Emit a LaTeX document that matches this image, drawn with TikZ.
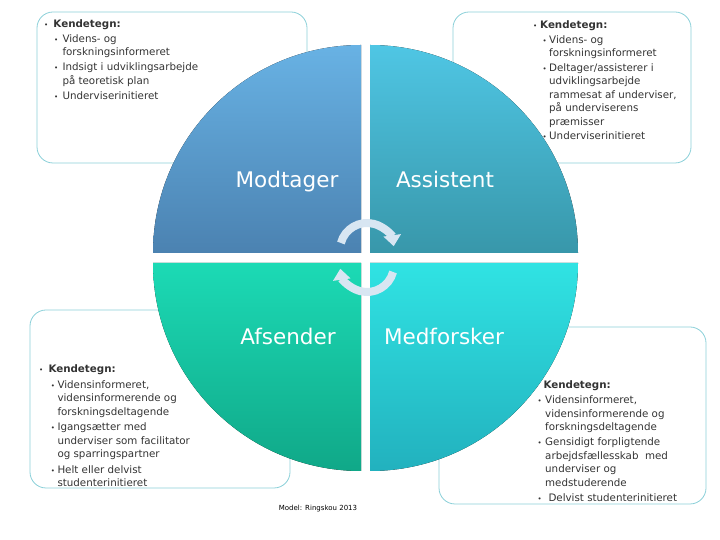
\documentclass[tikz,border=0pt]{standalone}
\usepackage{fontspec}
\setmainfont{DejaVu Sans}
\usetikzlibrary{arrows.meta}
\definecolor{boxline}{HTML}{8ACFD8}
\definecolor{txtgray}{HTML}{333333}
\definecolor{cycblue}{HTML}{D8E6F2}
\definecolor{tlA}{HTML}{68B2E4}
\definecolor{tlB}{HTML}{4B82B1}
\definecolor{trA}{HTML}{4FC6E4}
\definecolor{trB}{HTML}{3897AA}
\definecolor{blA}{HTML}{1CDAB5}
\definecolor{blB}{HTML}{10A888}
\definecolor{brA}{HTML}{30E3E3}
\definecolor{brB}{HTML}{22B1BE}
\tikzset{
  kbox/.style={draw=boxline, line width=0.8pt, rounded corners=16pt},
  ktxt/.style={anchor=north west, inner sep=0pt, align=left, text=txtgray,
    font=\fontsize{10.3}{13.5}\selectfont},
  rlab/.style={anchor=base, inner sep=0pt, text=white,
    font=\fontsize{21.5}{24}\selectfont},
  cyc/.style={draw=cycblue, line width=8pt, -{Triangle[width=17pt, length=11pt]}},
  src/.style={inner sep=0pt, text=black, font=\fontsize{7}{8}\selectfont}
}
\newcommand{\bul}[1]{\makebox[#1][l]{\scriptsize\textbullet}}

\begin{document}
\begin{tikzpicture}[x=1pt, y=1pt]
  \useasboundingbox (0,0) rectangle (720,540);
  % boxes
  \draw[kbox] (37,377) rectangle (307,528);
  \draw[kbox] (453,377) rectangle (691,528);
  \draw[kbox] (30,52) rectangle (290,230);
  \draw[kbox] (439,36) rectangle (706,213);
  % Modtager text
  \node[ktxt] (ttl) at (44,520.2) {\bul{9.3pt}\textbf{Kendetegn:}\\[1pt]
    \hspace*{10pt}\bul{8.3pt}Videns- og\\
    \hspace*{18.3pt}forskningsinformeret\\[1.5pt]
    \hspace*{10pt}\bul{8.3pt}Indsigt i udviklingsarbejde\\
    \hspace*{18.3pt}på teoretisk plan\\[2pt]
    \hspace*{10pt}\bul{8.3pt}Underviserinitieret};
  % Assistent text
  \node[ktxt] (ttr) at (533,519.2) {\bul{7pt}\textbf{Kendetegn:}\\[1pt]
    \hspace*{9.3pt}\bul{6.7pt}Videns- og\\
    \hspace*{16pt}forskningsinformeret\\[1pt]
    \hspace*{9.3pt}\bul{6.7pt}Deltager/assisterer i\\
    \hspace*{16pt}udviklingsarbejde\\
    \hspace*{16pt}rammesat af underviser,\\
    \hspace*{16pt}på underviserens\\
    \hspace*{16pt}præmisser\\[1pt]
    \hspace*{9.3pt}\bul{6.7pt}Underviserinitieret};
  % Afsender text
  \node[ktxt] (tbl) at (39,175.2) {\bul{9.3pt}\textbf{Kendetegn:}\\[2pt]
    \hspace*{11.7pt}\bul{6.6pt}Vidensinformeret,\\
    \hspace*{18.3pt}vidensinformerende og\\
    \hspace*{18.3pt}forskningsdeltagende\\[2pt]
    \hspace*{11.7pt}\bul{6.6pt}Igangsætter med\\
    \hspace*{18.3pt}underviser som facilitator\\
    \hspace*{18.3pt}og sparringspartner\\[2pt]
    \hspace*{11.7pt}\bul{6.6pt}Helt eller delvist\\
    \hspace*{18.3pt}studenterinitieret};
  % Medforsker text
  \node[ktxt] (tbr) at (535,159.2) {\bul{8.3pt}\textbf{Kendetegn:}\\[1.5pt]
    \hspace*{2.3pt}\bul{7.7pt}Vidensinformeret,\\
    \hspace*{10pt}vidensinformerende og\\
    \hspace*{10pt}forskningsdeltagende\\[1.5pt]
    \hspace*{2.3pt}\bul{7.7pt}Gensidigt forpligtende\\
    \hspace*{10pt}arbejdsfællesskab\ \ med\\
    \hspace*{10pt}underviser og\\
    \hspace*{10pt}medstuderende\\[1.5pt]
    \hspace*{2.3pt}\bul{11pt}Delvist studenterinitieret};
  % quadrants
  \coordinate (ctl) at (361,287);
  \coordinate (ctr) at (370,287);
  \coordinate (cbl) at (361,277);
  \coordinate (cbr) at (370,277);
  \fill[top color=tlA, bottom color=tlB] (ctl) -- ++(0,208) arc[start angle=90, end angle=180, radius=208] -- cycle;
  \fill[top color=trA, bottom color=trB] (ctr) -- ++(208,0) arc[start angle=0, end angle=90, radius=208] -- cycle;
  \fill[top color=blA, bottom color=blB] (cbl) -- ++(-208,0) arc[start angle=180, end angle=270, radius=208] -- cycle;
  \fill[top color=brA, bottom color=brB] (cbr) -- ++(0,-208) arc[start angle=270, end angle=360, radius=208] -- cycle;
  % role labels
  \node[rlab] (modt) at (287,352) {Modtager};
  \node[rlab] (assi) at (445,352) {Assistent};
  \node[rlab] (afse) at (288,195) {Afsender};
  \node[rlab] (medf) at (444,195) {Medforsker};
  % cycle arrows
  \coordinate (atop) at (367,290);
  \coordinate (abot) at (367,275);
  \draw[cyc] ([shift={(165:27)}]atop) arc[start angle=165, end angle=8, radius=27];
  \draw[cyc] ([shift={(-15:27)}]abot) arc[start angle=-15, end angle=-172, radius=27];
  % source
  \node[src] (kilde) at (318,31) {Model: Ringskou 2013};
\end{tikzpicture}
\end{document}
